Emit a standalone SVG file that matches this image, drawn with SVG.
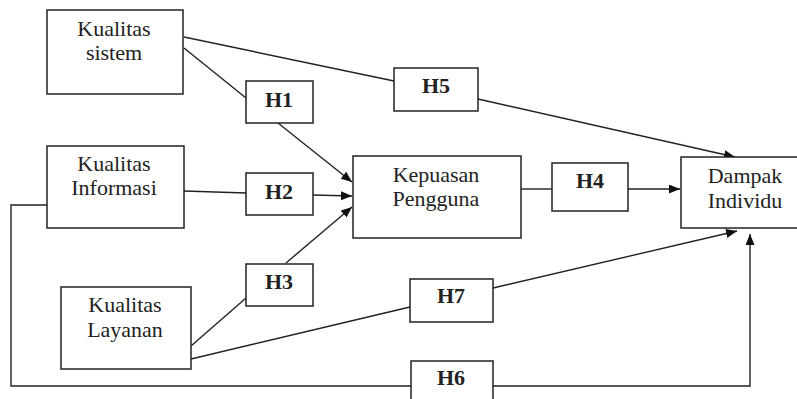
<svg xmlns="http://www.w3.org/2000/svg" width="797" height="399" viewBox="0 0 797 399">
<style>
.box{fill:#fff;stroke:#222;stroke-width:1.5}
.lbl{font-family:"Liberation Serif","Times New Roman",serif;font-size:22px;fill:#222;text-anchor:middle}
.h{font-weight:bold}
.ln{fill:none;stroke:#222;stroke-width:1.4}
</style>
<defs>
<marker id="arr" markerUnits="userSpaceOnUse" markerWidth="12" markerHeight="10" refX="11" refY="4.5" orient="auto">
<path d="M0,0 L11,4.5 L0,9 z" fill="#111"/>
</marker>
</defs>
<rect width="797" height="399" fill="#fff"/>
<g id="connectors">
<line class="ln" x1="184" y1="37" x2="394" y2="81"/>
<line class="ln" x1="478" y1="99" x2="735" y2="157" marker-end="url(#arr)"/>
<line class="ln" x1="184" y1="48" x2="246" y2="98"/>
<line class="ln" x1="278" y1="123" x2="352" y2="182" marker-end="url(#arr)"/>
<line class="ln" x1="184" y1="191" x2="246" y2="193"/>
<line class="ln" x1="313" y1="195" x2="352" y2="196" marker-end="url(#arr)"/>
<line class="ln" x1="191" y1="346" x2="246" y2="298"/>
<line class="ln" x1="286" y1="263" x2="352" y2="207" marker-end="url(#arr)"/>
<line class="ln" x1="521" y1="189" x2="552" y2="189"/>
<line class="ln" x1="628" y1="189" x2="680" y2="189" marker-end="url(#arr)"/>
<line class="ln" x1="191" y1="359" x2="410" y2="307"/>
<line class="ln" x1="493" y1="288" x2="737" y2="231" marker-end="url(#arr)"/>
<polyline class="ln" points="47,205 11,205 11,386 411,386"/>
<polyline class="ln" points="493,386 750,386 750,234" marker-end="url(#arr)"/>
</g>
<g id="kualitas-sistem">
<rect class="box" x="47" y="10" width="136" height="84"/>
<text class="lbl" x="114" y="36">Kualitas</text>
<text class="lbl" x="114" y="60">sistem</text>
</g>
<g id="kualitas-informasi">
<rect class="box" x="47" y="146" width="137" height="82"/>
<text class="lbl" x="114" y="171">Kualitas</text>
<text class="lbl" x="114" y="195">Informasi</text>
</g>
<g id="kualitas-layanan">
<rect class="box" x="61" y="287" width="130" height="82"/>
<text class="lbl" x="125" y="312">Kualitas</text>
<text class="lbl" x="125" y="337">Layanan</text>
</g>
<g id="kepuasan-pengguna">
<rect class="box" x="353" y="156" width="168" height="82"/>
<text class="lbl" x="436" y="182">Kepuasan</text>
<text class="lbl" x="436" y="206">Pengguna</text>
</g>
<g id="dampak-individu">
<rect class="box" x="681" y="157" width="130" height="71"/>
<text class="lbl" x="745" y="183">Dampak</text>
<text class="lbl" x="745" y="208">Individu</text>
</g>
<g id="h1">
<rect class="box" x="246" y="81" width="67" height="42"/>
<text class="lbl h" x="279" y="107">H1</text>
</g>
<g id="h2">
<rect class="box" x="246" y="173" width="67" height="42"/>
<text class="lbl h" x="279" y="199">H2</text>
</g>
<g id="h3">
<rect class="box" x="246" y="264" width="67" height="42"/>
<text class="lbl h" x="279" y="289">H3</text>
</g>
<g id="h4">
<rect class="box" x="552" y="163" width="76" height="48"/>
<text class="lbl h" x="590" y="188">H4</text>
</g>
<g id="h5">
<rect class="box" x="394" y="68" width="84" height="43"/>
<text class="lbl h" x="436" y="93">H5</text>
</g>
<g id="h7">
<rect class="box" x="410" y="279" width="83" height="43"/>
<text class="lbl h" x="451" y="303">H7</text>
</g>
<g id="h6">
<rect class="box" x="411" y="361" width="82" height="45"/>
<text class="lbl h" x="451" y="385">H6</text>
</g>
</svg>
